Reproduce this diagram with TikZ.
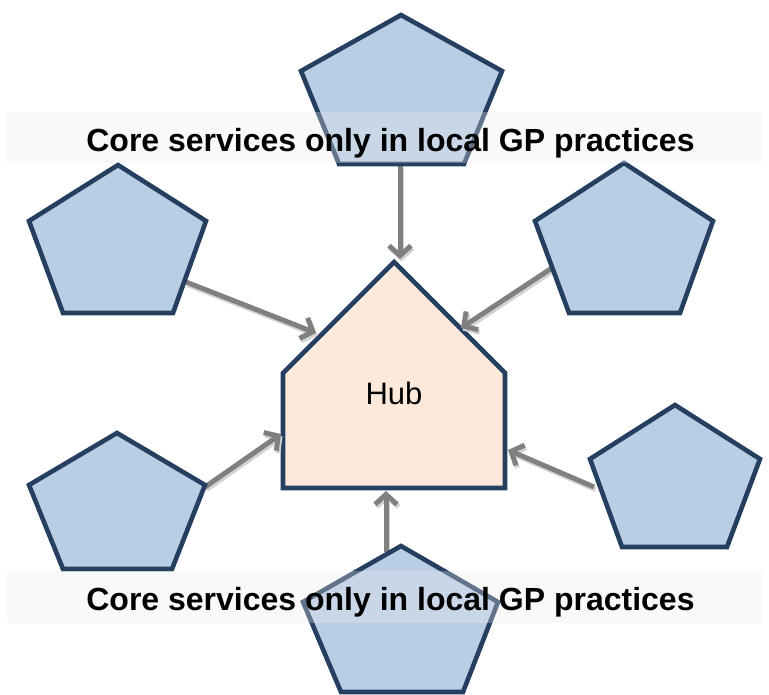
\documentclass[tikz,border=0pt]{standalone}
\usepackage{fontspec}
\setmainfont{Liberation Sans}
\usetikzlibrary{arrows.meta}
\definecolor{pfill}{HTML}{B9CDE5}
\definecolor{pline}{HTML}{243F60}
\definecolor{hfill}{HTML}{FDE9D9}
\definecolor{arr}{HTML}{808080}
\definecolor{shad}{HTML}{D3D3D3}
\definecolor{bandc}{HTML}{ECECEC}
\begin{document}
\begin{tikzpicture}[x=1pt,y=-1pt,
  pentshape/.style={fill=pfill,draw=pline,line width=4.6pt,line join=miter},
  hubshape/.style={fill=hfill,draw=pline,line width=4.6pt,line join=miter},
  link/.style={draw=arr,line width=5pt,-{Straight Barb[length=10pt,width=22pt]}},
  linkshadow/.style={draw=shad,line width=5pt,-{Straight Barb[length=10pt,width=22pt]},transform canvas={shift={(1.5pt,-2.5pt)}}},
  bandbox/.style={fill=bandc,fill opacity=0.31,draw=none},
  bandtext/.style={font=\fontsize{32}{36}\selectfont\bfseries,anchor=base,inner sep=0pt},
  hubtext/.style={font=\fontsize{31}{36}\selectfont,inner sep=0pt}]
\useasboundingbox (0,0) rectangle (769,695);
% hub
\draw[hubshape] (394,262) -- (505,373) -- (505,488) -- (283,488) -- (283,373) -- cycle;
\node[hubtext] (hub) at (394,393) {Hub};
% connector end points
\coordinate (t-out) at (400,166);  \coordinate (hub-t) at (400,259);
\coordinate (ul-out) at (186,282); \coordinate (hub-ul) at (316,333);
\coordinate (ur-out) at (552,268); \coordinate (hub-ur) at (461,328);
\coordinate (ll-out) at (205,487); \coordinate (hub-ll) at (281,434);
\coordinate (lr-out) at (594,487); \coordinate (hub-lr) at (508,450);
\coordinate (b-out) at (386,552);  \coordinate (hub-b) at (386,491);
% shadows
\foreach \a/\b in {t-out/hub-t,ul-out/hub-ul,ur-out/hub-ur,ll-out/hub-ll,lr-out/hub-lr,b-out/hub-b}
  \draw[linkshadow] (\a) -- (\b);
% connectors
\foreach \a/\b in {t-out/hub-t,ul-out/hub-ul,ur-out/hub-ur,ll-out/hub-ll,lr-out/hub-lr,b-out/hub-b}
  \draw[link] (\a) -- (\b);
% pentagons
\draw[pentshape] (401,15) -- (502,71) -- (464,164) -- (339,164) -- (301,71) -- cycle;
\draw[pentshape] (118,165) -- (206,221) -- (173,313) -- (63,313) -- (29,221) -- cycle;
\draw[pentshape] (624,163) -- (713,221) -- (680,313) -- (569,313) -- (535,221) -- cycle;
\draw[pentshape] (117,433) -- (205,485) -- (172,569) -- (63,569) -- (29,485) -- cycle;
\draw[pentshape] (675,405) -- (760,459) -- (727,547) -- (622,547) -- (590,459) -- cycle;
\draw[pentshape] (401,546) -- (498,602) -- (463,692) -- (341,692) -- (303,602) -- cycle;
% bands
\fill[bandbox] (7,112) rectangle (762,163);
\fill[bandbox] (7,571) rectangle (762,623);
\node[bandtext] (top-label) at (390.5,152) {Core services only in local GP practices};
\node[bandtext] (bottom-label) at (390.5,610) {Core services only in local GP practices};
\end{tikzpicture}
\end{document}
